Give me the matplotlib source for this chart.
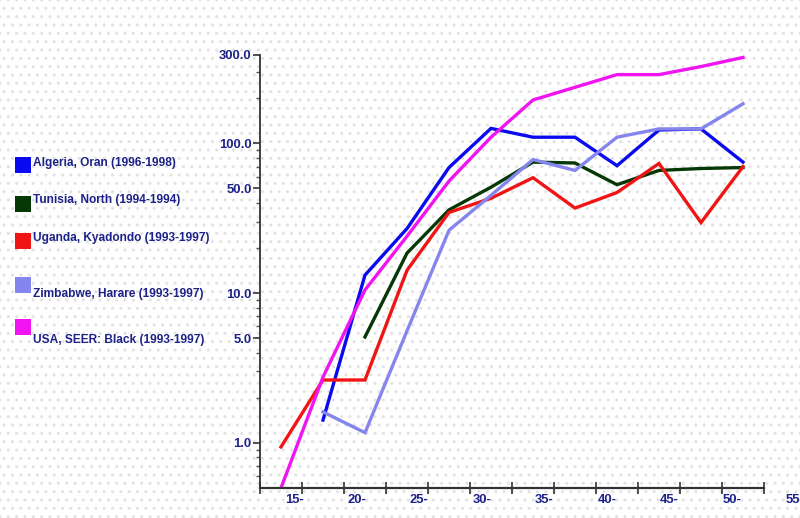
import numpy as np
import matplotlib.pyplot as plt
from matplotlib import font_manager
from matplotlib.patches import Rectangle
from matplotlib.ticker import FixedLocator, NullFormatter

# data (age-group bins, log scale rates)
groups = np.arange(12)
nan = np.nan
algeria = [nan, 1.42, 13.2, 27, 69, 126, 110, 110, 71, 123, 125, 75]
tunisia = [nan, nan, 5.1, 18.5, 36, 51, 75, 74, 53, 66, 68, 69]
uganda = [0.94, 2.63, 2.63, 14.2, 34.6, 43, 59, 37, 47, 73.5, 29.6, 70]
zimbabwe = [nan, 1.61, 1.17, 5.6, 26.3, 45, 78, 66, 110, 125, 125, 184]
usa = [0.5, 2.75, 10.5, 24, 56, 110, 195, 237, 288, 288, 326, 375]

series = [
    ('Algeria, Oran (1996-1998)', algeria, '#0a0af0'),
    ('Tunisia, North (1994-1994)', tunisia, '#063806'),
    ('Uganda, Kyadondo (1993-1997)', uganda, '#f01414'),
    ('Zimbabwe, Harare (1993-1997)', zimbabwe, '#8585ee'),
    ('USA, SEER: Black (1993-1997)', usa, '#f014f0'),
]
x_labels = ['15-', '20-', '25-', '30-', '35-', '40-', '45-', '50-', '55-']
y_major = [1, 5, 10, 50, 100, 390]
y_major_labels = ['1.0', '5.0', '10.0', '50.0', '100.0', '300.0']
y_minor = [0.6, 0.7, 0.8, 0.9, 2, 3, 4, 6, 7, 8, 9, 20, 30, 40, 60, 70, 80, 90, 200, 300]

txt_color = '#1c2287'
names = {f.name for f in font_manager.fontManager.ttflist}
if 'Liberation Sans Narrow' in names:
    plt.rcParams['font.family'] = ['Liberation Sans Narrow', 'DejaVu Sans']
    fs = 10
else:
    plt.rcParams['font.family'] = ['Liberation Sans', 'DejaVu Sans']
    fs = 8.6
plt.rcParams['hatch.linewidth'] = 1.0

fig = plt.figure(figsize=(8, 5.18), dpi=100)
fig.patch.set_facecolor('white')
bg = Rectangle((0, 0), 1, 1, transform=fig.transFigure, facecolor='white',
               edgecolor='#e2e2e2', hatch='..', linewidth=0, zorder=-10)
fig.patches.append(bg)

ax = fig.add_axes([0.325, 0.058, 0.63, 0.836])
ax.patch.set_alpha(0)

for name, vals, col in series:
    ax.plot(groups, vals, color=col, lw=2.4, solid_joinstyle='miter')

ax.set_yscale('log')
ax.set_ylim(0.5, 390)
ax.set_xlim(-0.5, 11.5)

ax.yaxis.set_major_locator(FixedLocator(y_major))
ax.set_yticklabels(y_major_labels)
ax.yaxis.set_minor_locator(FixedLocator(y_minor))
ax.yaxis.set_minor_formatter(NullFormatter())
ax.tick_params(axis='y', which='major', direction='out', length=5, width=1.2,
               labelsize=fs + 0.8, labelcolor=txt_color, pad=1, color='#333333')
ax.tick_params(axis='y', which='minor', direction='out', length=3, width=1.0, color='#555555')
for lbl in ax.get_yticklabels():
    lbl.set_fontweight('bold')

ax.set_xticks(np.arange(-0.5, 12, 1))
ax.set_xticklabels([])
ax.tick_params(axis='x', which='major', direction='inout', length=8, width=1.2, color='#333333')
ax.tick_params(axis='x', which='minor', length=0)

label_pos = 0.31 + 1.49 * np.arange(len(x_labels))
for p, t in zip(label_pos, x_labels):
    ax.text(p, -0.027, t, transform=ax.get_xaxis_transform(), ha='center', va='center',
            fontsize=fs + 0.8, fontweight='bold', color=txt_color, clip_on=False)

for s in ['top', 'right']:
    ax.spines[s].set_visible(False)
ax.spines['left'].set_color('#333333')
ax.spines['bottom'].set_color('#333333')
ax.spines['left'].set_linewidth(1.3)
ax.spines['bottom'].set_linewidth(1.6)

# legend drawn by hand to keep the uneven spacing of the original
box_y = [165, 204, 241, 285, 327]
text_y = [163, 200, 238, 294, 340]
for (name, vals, col), by, ty in zip(series, box_y, text_y):
    fig.patches.append(Rectangle((15 / 800, 1 - (by + 8) / 518), 16 / 800, 16 / 518,
                                 transform=fig.transFigure, facecolor=col, edgecolor='none'))
    fig.text(33 / 800, 1 - ty / 518, name, ha='left', va='center', fontsize=fs,
             fontweight='bold', color=txt_color)

plt.savefig('out.png', dpi=100)
